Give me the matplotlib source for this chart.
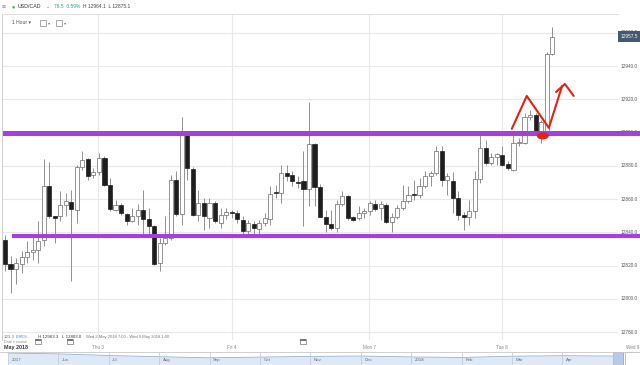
import numpy as np
import matplotlib.pyplot as plt
from matplotlib.patches import Rectangle, Ellipse
from matplotlib.transforms import blended_transform_factory as blend

plt.rcParams['font.family'] = ['Liberation Sans', 'DejaVu Sans']

W, H = 640, 365

# hourly USD/CAD candles
opens = [12835.2, 12821.2, 12818.0, 12821.2, 12825.0, 12828.4, 12829.6, 12835.2, 12868.0, 12849.6,
         12849.6, 12856.6, 12858.4, 12853.6, 12879.2, 12884.0, 12874.6, 12876.0, 12884.6, 12868.6,
         12853.6, 12856.2, 12851.2, 12846.6, 12849.6, 12853.2, 12848.0, 12844.0, 12821.6, 12833.6,
         12836.6, 12871.6, 12851.0, 12899.2, 12878.0, 12850.4, 12857.6, 12848.6, 12857.6, 12845.6,
         12850.2, 12851.8, 12851.6, 12847.6, 12841.0, 12845.0, 12842.2, 12845.6, 12848.0, 12864.0,
         12863.6, 12875.6, 12874.6, 12870.0, 12870.6, 12866.0, 12893.0, 12867.0, 12849.0, 12845.0,
         12842.6, 12857.0, 12861.6, 12849.2, 12848.6, 12851.6, 12853.0, 12857.0, 12854.4, 12856.6,
         12846.2, 12849.0, 12854.6, 12859.0, 12862.8, 12862.6, 12867.6, 12873.6, 12875.6, 12889.0,
         12871.6, 12871.0, 12860.6, 12850.6, 12849.0, 12852.6, 12872.2, 12890.6, 12881.6, 12885.0,
         12886.6, 12881.2, 12877.2, 12894.0, 12893.6, 12909.2, 12910.6, 12901.2, 12901.2, 12947.2]
highs = [12838.6, 12825.6, 12824.8, 12828.6, 12834.6, 12838.6, 12846.6, 12884.0, 12882.4, 12850.0,
         12864.6, 12863.6, 12865.6, 12880.6, 12888.6, 12884.6, 12878.6, 12887.6, 12885.6, 12872.6,
         12859.6, 12857.6, 12851.6, 12854.6, 12857.2, 12865.2, 12854.6, 12844.6, 12836.6, 12849.6,
         12874.6, 12876.6, 12909.2, 12900.6, 12879.2, 12865.2, 12860.6, 12860.6, 12858.6, 12854.6,
         12854.6, 12853.6, 12853.6, 12849.6, 12847.6, 12846.6, 12847.6, 12851.6, 12867.6, 12868.6,
         12880.6, 12880.6, 12876.6, 12873.6, 12889.0, 12918.2, 12893.6, 12869.0, 12853.6, 12853.6,
         12859.6, 12864.6, 12862.6, 12849.6, 12855.6, 12854.6, 12858.6, 12859.6, 12858.6, 12857.6,
         12851.6, 12856.6, 12868.6, 12867.6, 12871.6, 12872.6, 12876.6, 12876.6, 12891.6, 12891.6,
         12875.6, 12876.2, 12864.6, 12852.2, 12859.6, 12876.6, 12899.0, 12895.6, 12887.6, 12887.6,
         12891.6, 12882.6, 12898.6, 12896.6, 12911.6, 12913.6, 12912.0, 12907.6, 12948.6, 12963.6]
lows = [12816.6, 12803.6, 12808.6, 12815.6, 12821.6, 12823.6, 12821.6, 12831.6, 12848.6, 12833.6,
        12846.6, 12849.6, 12810.6, 12845.6, 12877.6, 12871.2, 12872.6, 12874.6, 12867.6, 12852.6,
        12852.6, 12850.6, 12844.6, 12846.0, 12844.6, 12838.6, 12838.6, 12820.6, 12817.0, 12832.6,
        12835.6, 12850.0, 12844.6, 12871.6, 12850.0, 12846.6, 12841.6, 12842.6, 12845.6, 12842.6,
        12848.2, 12848.6, 12845.6, 12837.6, 12837.6, 12837.6, 12838.6, 12843.6, 12844.6, 12860.6,
        12857.6, 12871.0, 12867.6, 12866.6, 12843.6, 12855.6, 12855.6, 12849.0, 12840.2, 12841.6,
        12840.2, 12855.6, 12847.6, 12847.0, 12847.6, 12848.6, 12850.6, 12853.0, 12847.6, 12845.6,
        12840.2, 12848.2, 12853.6, 12857.6, 12859.6, 12860.6, 12866.6, 12867.6, 12874.6, 12867.6,
        12862.6, 12851.6, 12847.6, 12841.6, 12844.2, 12848.6, 12869.6, 12880.6, 12880.2, 12880.6,
        12879.6, 12877.6, 12876.6, 12891.6, 12893.2, 12907.6, 12900.6, 12893.6, 12900.6, 12946.6]
closes = [12821.2, 12818.0, 12821.6, 12825.2, 12828.2, 12829.6, 12835.0, 12868.0, 12849.6, 12848.4,
          12856.6, 12859.0, 12854.0, 12879.2, 12883.2, 12874.0, 12876.0, 12884.6, 12868.6, 12854.0,
          12856.2, 12851.6, 12846.6, 12849.6, 12853.2, 12848.0, 12844.0, 12821.2, 12833.6, 12836.6,
          12871.6, 12851.2, 12899.6, 12878.6, 12850.6, 12857.6, 12850.0, 12857.6, 12846.6, 12850.2,
          12852.2, 12851.4, 12848.2, 12841.0, 12845.6, 12842.6, 12845.6, 12848.6, 12863.0, 12863.6,
          12875.6, 12874.0, 12870.6, 12869.4, 12866.0, 12893.0, 12867.0, 12849.0, 12845.0, 12842.6,
          12857.0, 12861.6, 12848.6, 12847.6, 12851.6, 12853.0, 12857.6, 12854.0, 12857.0, 12846.2,
          12849.0, 12854.6, 12859.0, 12862.6, 12862.4, 12867.6, 12873.6, 12875.6, 12889.0, 12871.6,
          12873.6, 12860.6, 12850.6, 12849.0, 12852.6, 12872.2, 12890.6, 12881.6, 12885.0, 12887.0,
          12880.6, 12878.6, 12893.6, 12894.4, 12909.6, 12910.6, 12901.2, 12906.6, 12947.2, 12957.6]

price_ticks = [12780, 12800, 12820, 12840, 12860, 12880, 12900, 12920, 12940, 12960]
day_ticks = [16.8, 41.1, 65.9, 89.9, 113.6]
day_labels = ['Thu 3', 'Fri 4', 'Mon 7', 'Tue 8', 'Wed 9']
resistance = 12900.0
support = 12837.5
last_price = 12957.5

# hand drawn red marks (candle index, price)
red_path_x = [91.7, 94.4, 98.4, 100.8]
red_path_y = [12902.2, 12922.0, 12902.8, 12928.0]
red_head_x = [99.7, 101.3, 102.9]
red_head_y = [12924.4, 12929.2, 12922.0]
blob_x, blob_y = 97.3, 12898.0

# navigator strip
nav_labels = ['2017', 'Jun', 'Jul', 'Aug', 'Sep', 'Oct', 'Nov', 'Dec', '2018', 'Feb', 'Mar', 'Apr']
nav_values = [1.368, 1.345, 1.30, 1.265, 1.235, 1.255, 1.275, 1.285, 1.26, 1.245, 1.28, 1.295, 1.285]


def box(x0, y0, x1, y1):
    return [x0 / W, 1 - y1 / H, (x1 - x0) / W, (y1 - y0) / H]


def ftext(x, y, s, **kw):
    kw.setdefault('va', 'center')
    kw.setdefault('ha', 'left')
    fig.text(x / W, 1 - y / H, s, **kw)


fig = plt.figure(figsize=(6.4, 3.65), dpi=100)

ax = fig.add_axes(box(2, 14, 618, 340))
ax.set_xlim((2 - 5) / 5.527, (618 - 5) / 5.527)
ax.set_ylim(12775.2, 12971.3)
ax.set_yticks(price_ticks)
ax.set_xticks(day_ticks[:4])
ax.grid(color='#e9e9e9', lw=0.8)
ax.tick_params(length=0, labelbottom=False, labelleft=False)
for side in ['right', 'bottom']:
    ax.spines[side].set_visible(False)
ax.spines['left'].set_color('#cfcfcf')
ax.spines['top'].set_color('#e0e0e0')
ax.spines['left'].set_linewidth(0.7)
ax.spines['top'].set_linewidth(0.7)

o = np.array(opens)
c = np.array(closes)
idx = np.arange(len(o))
up = c >= o
ax.vlines(idx, lows, highs, color='#808080', lw=0.6, zorder=2)
ax.bar(idx, np.maximum(np.abs(c - o), 0.5), bottom=np.minimum(o, c), width=0.74,
       color=np.where(up, 'white', '#1e1e1e'), edgecolor=np.where(up, '#6a6a6a', '#1e1e1e'),
       linewidth=0.5, zorder=3)

# right price labels
ytr = blend(ax.transAxes, ax.transData)
for t in price_ticks:
    ax.text(1.004, t, f'{t:.1f}', transform=ytr, fontsize=3.4, color='#555555',
            va='center', ha='left', clip_on=False)

# support / resistance
ax.axhline(resistance, xmin=0.005, xmax=1.036, color='#a83ee0', lw=3.6, zorder=5, clip_on=False)
ax.axhline(support, xmin=0.0195, xmax=1.036, color='#a83ee0', lw=2.9, zorder=5, clip_on=False)

# red hand drawing
ax.plot(red_path_x, red_path_y, color='#e2230f', lw=1.5, solid_capstyle='round',
        solid_joinstyle='round', zorder=6, clip_on=False)
ax.plot(red_head_x, red_head_y, color='#e2230f', lw=1.5, solid_capstyle='round',
        solid_joinstyle='round', zorder=6, clip_on=False)
ax.add_patch(Ellipse((blob_x, blob_y), 1.9, 3.4, color='#e2230f', zorder=6))

# last price tag
fig.patches.append(Rectangle((618 / W, 1 - 42 / H), 22 / W, 11 / H, transform=fig.transFigure,
                             facecolor='#46596e', edgecolor='none', zorder=7))
ftext(629, 36.5, f'{last_price:.1f}', fontsize=3.4, color='white', ha='center', zorder=8)

# header
ftext(2, 7, '≡', fontsize=5, color='#888888')
ftext(11, 7, '●', fontsize=4, color='#35b04a')
ftext(18, 7, 'USD/CAD', fontsize=3.8, color='#333333')
ftext(46, 7, '⌄', fontsize=3.6, color='#888888')
ftext(54, 7, '76.5  0.59%', fontsize=3.5, color='#2a9d8f')
ftext(83, 7, 'H 12964.1  L 12875.1', fontsize=3.5, color='#444444')

# toolbar
ftext(12, 23, '1 Hour ▾', fontsize=3.6, color='#555555')
for x0 in (40, 56):
    fig.patches.append(Rectangle((x0 / W, 1 - 26 / H), 6 / W, 6 / H, transform=fig.transFigure,
                                 facecolor='white', edgecolor='#888888', lw=0.5))
    ftext(x0 + 8, 23, '▾', fontsize=3, color='#777777')

# info row under the chart
ftext(4, 336.7, '123.3', fontsize=3.2, color='#3b7dd8')
ftext(16, 336.7, '0.95%', fontsize=3.2, color='#3b7dd8')
ftext(38, 336.7, 'H 12963.3', fontsize=3.2, color='#333333')
ftext(62, 336.7, 'L 12803.0', fontsize=3.2, color='#333333')
ftext(86, 336.7, 'Wed 2 May 2018 7:00 - Wed 9 May 2018 1:00', fontsize=3.0, color='#777777')
ftext(4, 342, 'Date x course', fontsize=2.7, color='#888888')
for x0 in (35, 67, 300):
    fig.patches.append(Rectangle((x0 / W, 1 - 344 / H), 6 / W, 5 / H, transform=fig.transFigure,
                                 facecolor='white', edgecolor='#777777', lw=0.5))
    fig.patches.append(Rectangle((x0 / W, 1 - 340.5 / H), 6 / W, 1.5 / H, transform=fig.transFigure,
                                 facecolor='#777777', edgecolor='none'))

# date axis
ftext(4, 347.5, 'May 2018', fontsize=3.9, color='#333333', fontweight='bold')
dtr = blend(ax.transData, fig.transFigure)
for t, lab in zip(day_ticks, day_labels):
    ax.text(t, 1 - 347.5 / H, lab, transform=dtr, fontsize=3.3, color='#888888',
            ha='center', va='center', clip_on=False)

# navigator
nav = fig.add_axes(box(0, 352, 640, 365))
nav.set_xlim(-8 / 50.4, 632 / 50.4)
nav.set_ylim(1.034, 1.398)
nx = np.arange(len(nav_values))
nav.fill_between(nx, nav_values, 1.034, color='#dde9f6', lw=0)
nav.plot(nx, nav_values, color='#8fb1d9', lw=0.6)
nav.vlines(nx, 1.034, 1.398, color='#b9c7d8', lw=0.5)
for i, lab in enumerate(nav_labels):
    nav.text(i + 0.07, 0.38, lab, transform=blend(nav.transData, nav.transAxes),
             fontsize=3.2, color='#6a6a6a', va='center', ha='left')
nav.add_patch(Rectangle((12.0, 1.034), 0.2, 0.364, facecolor='#b5cbe8', edgecolor='#7f9cc4', lw=0.5))
nav.add_patch(Rectangle((12.24, 1.034), 0.3, 0.364, facecolor='white', edgecolor='#aaaaaa', lw=0.5))
nav.set_xticks([])
nav.set_yticks([])
for side in ['left', 'right', 'bottom']:
    nav.spines[side].set_visible(False)
nav.spines['top'].set_color('#c8c8c8')
nav.spines['top'].set_linewidth(0.6)

fig.savefig('out.png', dpi=100)
